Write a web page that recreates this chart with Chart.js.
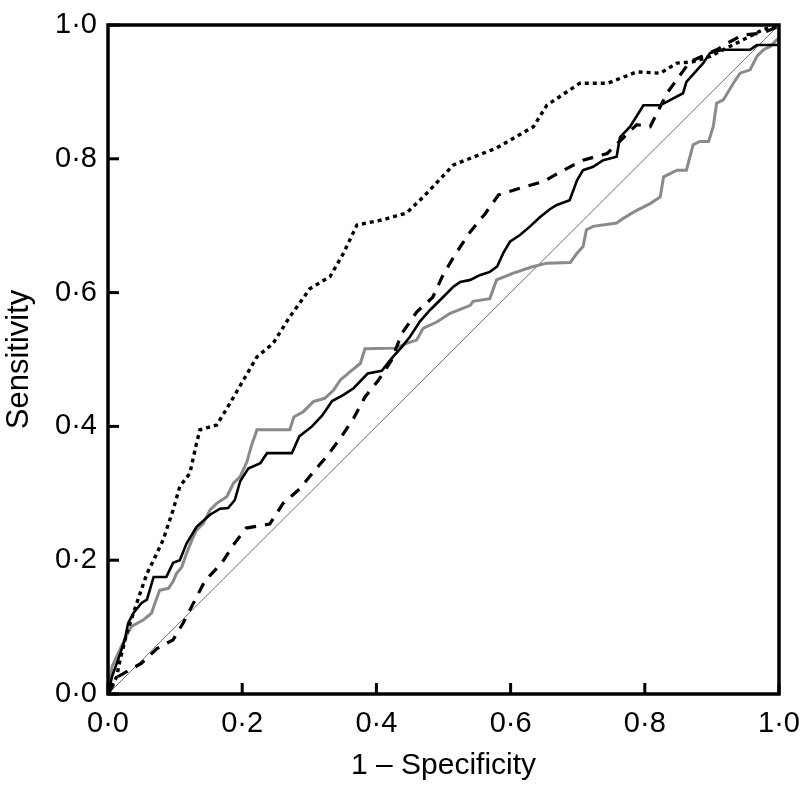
<!DOCTYPE html>
<html>
<head>
<meta charset="utf-8">
<script src="https://cdn.jsdelivr.net/npm/chart.js@4/dist/chart.umd.min.js"></script>
<style>
  html, body { margin: 0; padding: 0; background: #ffffff; }
  #wrap { width: 802px; height: 785px; }
</style>
</head>
<body>
<div id="wrap"><canvas id="c" width="802" height="785"></canvas></div>
<script>
// Tick positions and labels
const tickValues = [0, 0.2, 0.4, 0.6, 0.8, 1.0];
const tickLabels = ['0·0', '0·2', '0·4', '0·6', '0·8', '1·0'];

// ROC curves: [1 - specificity, sensitivity]
const curveDotted = [
  [0,0],[0.013,0.026],[0.018,0.051],[0.028,0.091],[0.038,0.121],[0.048,0.151],[0.058,0.180],
  [0.068,0.200],[0.082,0.230],[0.097,0.275],[0.107,0.310],[0.122,0.330],[0.132,0.375],
  [0.137,0.395],[0.162,0.402],[0.182,0.435],[0.222,0.504],[0.246,0.524],[0.271,0.564],
  [0.301,0.606],[0.331,0.624],[0.351,0.659],[0.371,0.701],[0.410,0.709],[0.445,0.719],
  [0.470,0.743],[0.515,0.791],[0.579,0.816],[0.634,0.848],[0.654,0.880],[0.703,0.913],
  [0.745,0.913],[0.788,0.930],[0.823,0.928],[0.848,0.943],[0.872,0.945],[0.897,0.953],
  [0.937,0.973],[0.976,0.993],[1,1]
];
const curveDashed = [
  [0,0],[0.015,0.026],[0.050,0.046],[0.073,0.068],[0.097,0.081],[0.112,0.106],[0.130,0.141],
  [0.145,0.170],[0.169,0.195],[0.187,0.223],[0.206,0.248],[0.241,0.254],[0.261,0.285],
  [0.286,0.307],[0.306,0.332],[0.326,0.355],[0.348,0.385],[0.366,0.412],[0.383,0.444],
  [0.403,0.469],[0.422,0.498],[0.438,0.539],[0.460,0.571],[0.484,0.593],[0.500,0.628],
  [0.520,0.661],[0.540,0.691],[0.562,0.718],[0.582,0.746],[0.614,0.756],[0.649,0.766],
  [0.679,0.783],[0.708,0.798],[0.744,0.808],[0.788,0.851],[0.808,0.848],[0.833,0.898],
  [0.867,0.945],[0.907,0.963],[0.927,0.975],[0.946,0.985],[0.976,0.988],[0.997,0.997],[1,1]
];
const curveSolid = [
  [0,0],[0.006,0.026],[0.015,0.051],[0.025,0.081],[0.030,0.106],[0.038,0.121],[0.050,0.136],
  [0.058,0.141],[0.068,0.175],[0.087,0.175],[0.097,0.196],[0.107,0.200],[0.117,0.225],
  [0.132,0.250],[0.152,0.268],[0.167,0.277],[0.179,0.278],[0.189,0.290],[0.197,0.318],
  [0.209,0.337],[0.227,0.345],[0.237,0.360],[0.274,0.360],[0.285,0.385],[0.304,0.400],
  [0.319,0.416],[0.334,0.438],[0.351,0.447],[0.366,0.457],[0.387,0.479],[0.408,0.483],
  [0.423,0.502],[0.438,0.519],[0.450,0.534],[0.465,0.557],[0.480,0.574],[0.495,0.589],
  [0.515,0.609],[0.525,0.616],[0.540,0.619],[0.554,0.626],[0.569,0.631],[0.580,0.639],
  [0.589,0.659],[0.599,0.676],[0.614,0.686],[0.629,0.699],[0.644,0.713],[0.659,0.725],
  [0.669,0.731],[0.688,0.738],[0.699,0.768],[0.708,0.783],[0.723,0.788],[0.738,0.798],
  [0.758,0.803],[0.763,0.832],[0.778,0.848],[0.798,0.880],[0.823,0.880],[0.857,0.898],
  [0.862,0.915],[0.887,0.943],[0.897,0.958],[0.917,0.963],[0.957,0.963],[0.967,0.970],
  [1.0,0.970],[1,1]
];
const curveGrey = [
  [0,0],[0.006,0.041],[0.020,0.071],[0.028,0.088],[0.035,0.101],[0.053,0.111],[0.065,0.121],
  [0.070,0.136],[0.077,0.155],[0.090,0.158],[0.097,0.168],[0.102,0.180],[0.110,0.190],
  [0.117,0.210],[0.125,0.230],[0.132,0.245],[0.142,0.255],[0.152,0.275],[0.162,0.285],
  [0.177,0.295],[0.187,0.315],[0.197,0.325],[0.207,0.347],[0.214,0.372],[0.222,0.395],
  [0.271,0.395],[0.277,0.414],[0.291,0.422],[0.306,0.437],[0.323,0.442],[0.336,0.454],
  [0.346,0.469],[0.361,0.482],[0.376,0.494],[0.383,0.516],[0.428,0.517],[0.445,0.524],
  [0.460,0.529],[0.470,0.547],[0.490,0.556],[0.510,0.569],[0.540,0.581],[0.544,0.587],
  [0.569,0.591],[0.579,0.619],[0.594,0.625],[0.604,0.629],[0.634,0.639],[0.654,0.644],
  [0.689,0.645],[0.699,0.659],[0.708,0.669],[0.713,0.694],[0.723,0.699],[0.758,0.704],
  [0.768,0.711],[0.788,0.723],[0.808,0.733],[0.823,0.743],[0.828,0.773],[0.848,0.783],
  [0.862,0.783],[0.872,0.821],[0.882,0.826],[0.895,0.826],[0.902,0.848],[0.907,0.883],
  [0.917,0.888],[0.932,0.913],[0.942,0.928],[0.957,0.933],[0.967,0.953],[0.977,0.963],
  [0.987,0.968],[0.997,0.978],[1,0.98]
];
const chanceLine = [[0,0],[1,1]];

const toXY = arr => arr.map(p => ({x: p[0], y: p[1]}));

const FONT = '"Liberation Sans", Arial, Helvetica, sans-serif';

const frameAndTicks = {
  id: 'frameAndTicks',
  afterDraw(chart) {
    const {ctx, chartArea: a, scales} = chart;
    ctx.save();
    ctx.strokeStyle = '#000';
    ctx.lineWidth = 3;
    ctx.lineCap = 'butt';
    const len = 11;
    tickValues.forEach(v => {
      const px = scales.x.getPixelForValue(v);
      ctx.beginPath(); ctx.moveTo(px, a.bottom); ctx.lineTo(px, a.bottom - len); ctx.stroke();
      const py = scales.y.getPixelForValue(v);
      ctx.beginPath(); ctx.moveTo(a.left, py); ctx.lineTo(a.left + len, py); ctx.stroke();
    });
    ctx.lineWidth = 3.5;
    ctx.strokeRect(a.left, a.top, a.right - a.left, a.bottom - a.top);
    ctx.restore();
  }
};

new Chart(document.getElementById('c'), {
  type: 'scatter',
  data: {
    datasets: [
      { label: 'Dotted', data: toXY(curveDotted), showLine: true, borderColor: '#000', borderWidth: 3.4,
        borderDash: [4, 4], pointRadius: 0, order: 1 },
      { label: 'Dashed', data: toXY(curveDashed), showLine: true, borderColor: '#000', borderWidth: 3.2,
        borderDash: [11, 9], pointRadius: 0, order: 2 },
      { label: 'Solid', data: toXY(curveSolid), showLine: true, borderColor: '#000', borderWidth: 2.6,
        pointRadius: 0, order: 3 },
      { label: 'Grey', data: toXY(curveGrey), showLine: true, borderColor: '#8a8a8a', borderWidth: 3,
        pointRadius: 0, order: 4 },
      { label: 'Chance', data: toXY(chanceLine), showLine: true, borderColor: '#6e6e6e', borderWidth: 1,
        pointRadius: 0, order: 5 }
    ]
  },
  options: {
    responsive: false,
    animation: false,
    layout: { padding: { left: 0, top: 25, right: 23, bottom: 0 } },
    plugins: { legend: { display: false }, tooltip: { enabled: false } },
    scales: {
      x: {
        type: 'linear', min: 0, max: 1,
        afterBuildTicks: s => { s.ticks = tickValues.map(v => ({value: v})); },
        afterFit: s => { s.height = 91; s.paddingLeft = 0; s.paddingRight = 0; },
        grid: { display: false, drawTicks: false },
        border: { display: false },
        ticks: { color: '#000', padding: 13, maxRotation: 0,
          font: { family: FONT, size: 29 },
          callback: (v, i) => tickLabels[i] },
        title: { display: true, text: '1 – Specificity', color: '#000',
          font: { family: FONT, size: 30 }, padding: { top: 0, bottom: 1 } }
      },
      y: {
        type: 'linear', min: 0, max: 1,
        afterBuildTicks: s => { s.ticks = tickValues.map(v => ({value: v})); },
        afterFit: s => { s.width = 108; s.paddingTop = 0; s.paddingBottom = 0; },
        grid: { display: false, drawTicks: false },
        border: { display: false },
        ticks: { color: '#000', padding: 11,
          font: { family: FONT, size: 29 },
          callback: (v, i) => tickLabels[i] },
        title: { display: true, text: 'Sensitivity', color: '#000',
          font: { family: FONT, size: 31 }, padding: { top: 1, bottom: 0 } }
      }
    }
  },
  plugins: [frameAndTicks]
});
</script>
</body>
</html>
